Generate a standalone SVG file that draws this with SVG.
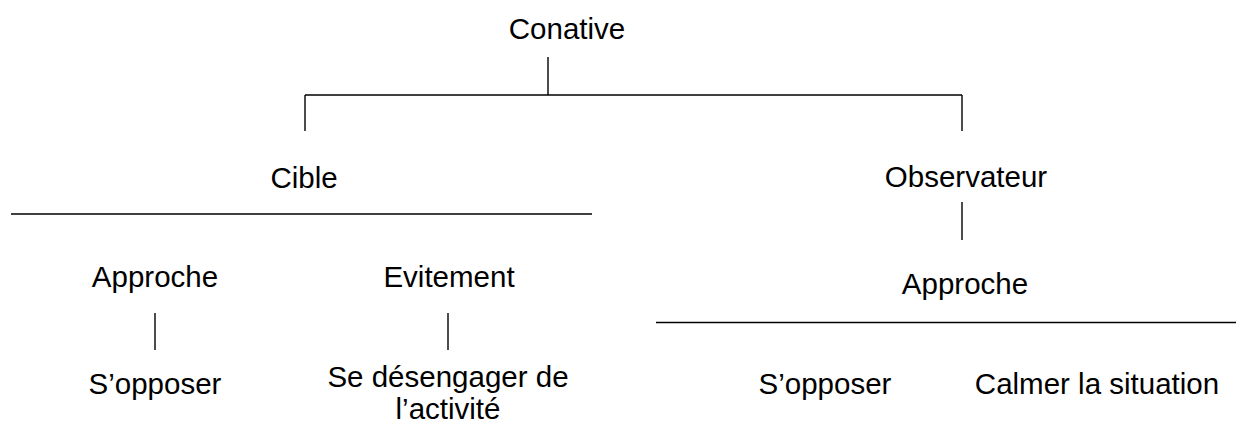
<svg xmlns="http://www.w3.org/2000/svg" width="1241" height="431" viewBox="0 0 1241 431">
<style>
text{font-family:"Liberation Sans",Arial,sans-serif;font-size:29.5px;fill:#000;text-anchor:middle}
line{stroke:#000;stroke-width:1.4}
</style>
<rect width="1241" height="431" fill="#fff"/>
<g id="connectors">
<line x1="548" y1="57" x2="548" y2="95"/>
<line x1="305" y1="95" x2="962" y2="95"/>
<line x1="305" y1="95" x2="305" y2="131"/>
<line x1="962" y1="95" x2="962" y2="131"/>
<line x1="11" y1="214" x2="592" y2="214"/>
<line x1="962" y1="202" x2="962" y2="240"/>
<line x1="656" y1="322.5" x2="1236" y2="322.5"/>
<line x1="155" y1="313" x2="155" y2="350"/>
<line x1="448" y1="313" x2="448" y2="350"/>
</g>
<g id="conative"><text x="567" y="39">Conative</text></g>
<g id="cible"><text x="304" y="188">Cible</text></g>
<g id="observateur"><text x="966" y="187">Observateur</text></g>
<g id="approche-cible"><text x="155" y="287">Approche</text></g>
<g id="evitement"><text x="449" y="287">Evitement</text></g>
<g id="approche-obs"><text x="965" y="294">Approche</text></g>
<g id="sopposer-cible"><text x="155" y="394">S’opposer</text></g>
<g id="desengager"><text x="448" y="387">Se désengager de</text><text x="448" y="419">l’activité</text></g>
<g id="sopposer-obs"><text x="825" y="394">S’opposer</text></g>
<g id="calmer"><text x="1097" y="394">Calmer la situation</text></g>
</svg>
